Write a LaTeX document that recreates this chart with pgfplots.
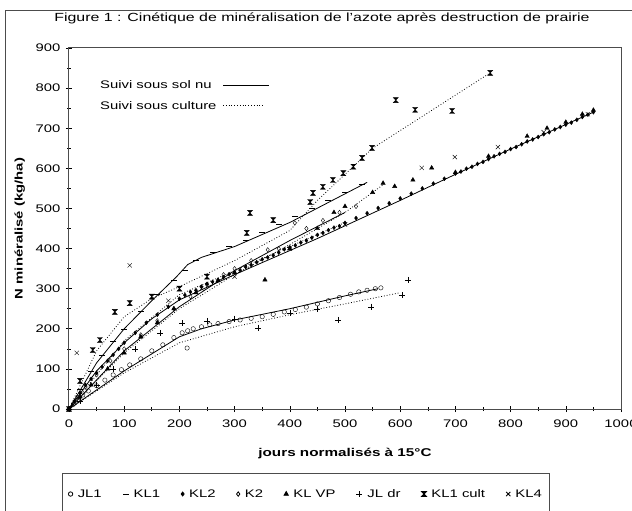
\documentclass[border=0pt]{standalone}
\usepackage{fontspec}
\setmainfont{Liberation Sans}[FakeStretch=1.35]
\usepackage{pgfplots}
\pgfplotsset{compat=1.18}

% hourglass mark for "KL1 cult"
\pgfdeclareplotmark{hourglass}{%
  \pgfpathmoveto{\pgfqpoint{-\pgfplotmarksize}{\pgfplotmarksize}}%
  \pgfpathlineto{\pgfqpoint{\pgfplotmarksize}{\pgfplotmarksize}}%
  \pgfpathlineto{\pgfqpoint{-\pgfplotmarksize}{-\pgfplotmarksize}}%
  \pgfpathlineto{\pgfqpoint{\pgfplotmarksize}{-\pgfplotmarksize}}%
  \pgfpathclose
  \pgfusepathqfillstroke}

\begin{document}
\begin{tikzpicture}
\path[use as bounding box] (-69pt,-102pt) rectangle (563pt,409pt);
\draw[gray!60!black, line width=1pt] (-63pt,-130pt) -- (-63pt,398pt) -- (600pt,398pt);
\node[font=\fontsize{11.8}{14}\selectfont] at (253pt,391pt)
  {Figure 1 : Cinétique de minéralisation de l'azote après destruction de prairie};
\begin{axis}[
    scale only axis,
    width=552pt, height=361pt,
    xmin=0, xmax=1000, ymin=0, ymax=900,
    xtick distance=100, ytick distance=100,
    minor x tick num=1, minor y tick num=1,
    tick pos=left, tick align=center,
    major tick length=6pt, minor tick length=4pt,
    every tick/.style={black, line width=0.6pt},
    axis line style={gray!60!black, line width=1pt},
    tick label style={font=\fontsize{11}{12}\selectfont},
    xticklabel style={yshift=-4pt},
    yticklabel style={xshift=-2pt},
    /pgf/number format/assume math mode=true,
    /pgf/number format/1000 sep={},
    xlabel={\textbf{jours normalisés à 15°C}},
    ylabel={\textbf{N minéralisé (kg/ha)}},
    xlabel style={font=\fontsize{11.3}{14}\selectfont, at={(axis description cs:0.5,-0.122)}, anchor=center},
    ylabel style={font=\fontsize{11}{12}\selectfont, at={(axis description cs:-0.089,0.5)}, anchor=center},
    legend columns=8,
    legend style={at={(axis description cs:-0.0127,-0.177)}, anchor=north west,
        draw=gray!60!black, line width=0.8pt, inner xsep=6pt, inner ysep=14pt,
        font=\fontsize{11}{12}\selectfont,
        /tikz/every odd column/.append style={column sep=3pt},
        /tikz/every even column/.append style={column sep=19pt}},
    legend image code/.code={\draw[#1] plot coordinates {(3pt,0pt)};},
    every axis plot/.append style={black},
    mark size=2.2pt,
]
% ---- fitted curves (no legend) ----
\addplot[forget plot, line width=0.8pt] coordinates {(0,0)(100,95)(200,180)(240,200)(300,222)(400,250)(500,282)(560,300)};
\addplot[forget plot, line width=0.8pt] coordinates {(0,0)(50,95)(100,165)(150,225)(200,272)(300,335)(450,425)(600,520)(700,585)(800,648)(950,740)};
\addplot[forget plot, line width=0.8pt] coordinates {(0,0)(50,115)(100,200)(150,270)(195,330)(215,360)(240,378)(300,405)(400,465)(540,565)};
\addplot[forget plot, line width=0.8pt] coordinates {(0,0)(100,145)(200,255)(300,345)(400,420)(500,490)};
\addplot[forget plot, dotted, line width=0.8pt] coordinates {(0,0)(100,90)(200,165)(300,205)(400,235)(500,262)(600,290)};
\addplot[forget plot, dotted, line width=0.8pt] coordinates {(0,0)(50,145)(100,230)(150,275)(200,305)(300,370)(400,445)(450,520)(550,650)(763,838)};
\addplot[forget plot, dotted, line width=0.8pt] coordinates {(0,0)(100,140)(200,250)(300,335)(400,410)(500,490)(570,560)};
\addplot[forget plot, dotted, line width=0.8pt] coordinates {(0,0)(100,170)(200,285)(300,345)(400,405)(500,465)};

% ---- measured series ----
\addplot[only marks, mark=o] coordinates {
(0,0)(8,12)(15,22)(25,35)(35,45)(50,58)(65,72)(80,85)(95,98)(110,110)(130,125)(150,145)
(170,160)(190,178)(205,190)(214,152)(215,195)(225,200)(240,205)(255,210)(270,213)(290,218)
(310,222)(330,226)(350,230)(370,236)(390,242)(410,248)(430,254)(450,262)(470,270)(490,278)
(510,286)(525,292)(540,296)(555,300)(565,302)};
\addlegendentry{JL1}
\addplot[only marks, mark=-, mark size=3pt] coordinates {
(0,0)(20,50)(40,95)(60,135)(80,170)(100,200)(130,245)(160,285)(190,320)(210,345)(230,370)
(260,390)(290,405)(320,420)(350,440)(380,460)(410,480)(440,500)(470,520)(500,540)(530,560)};
\addlegendentry{KL1}
\addplot[only marks, mark=diamond*, mark size=2pt] coordinates {
(0,0)(10,20)(20,40)(30,60)(40,75)(50,90)(60,105)(70,120)(80,135)(90,150)(100,165)(120,190)
(140,215)(160,235)(180,255)(200,275)(210,284)(220,292)(230,296)(240,305)(250,312)(260,317)
(270,322)(280,329)(290,336)(300,341)(310,346)(320,354)(330,359)(340,366)(350,373)(360,378)
(370,383)(380,390)(390,398)(400,403)(410,408)(420,415)(430,420)(440,427)(450,434)(460,439)
(470,446)(480,452)(490,456)(500,464)(520,476)(540,488)(560,501)(580,513)(600,525)(620,537)
(640,550)(660,562)(680,574)(700,587)(710,592)(720,599)(730,604)(740,611)(750,616)(760,623)
(770,630)(780,636)(790,641)(800,648)(810,653)(820,660)(830,667)(840,672)(850,678)(860,685)
(870,690)(880,697)(890,703)(900,709)(910,714)(920,721)(930,728)(940,734)(950,740)};
\addlegendentry{KL2}
\addplot[only marks, mark=diamond] coordinates {
(0,0)(15,30)(30,55)(50,85)(75,120)(100,150)(130,185)(160,220)(190,250)(220,280)(250,310)
(280,335)(300,350)(330,370)(360,397)(380,400)(409,464)(430,450)(460,470)(490,490)(520,505)};
\addlegendentry{K2}
\addplot[only marks, mark=triangle*, mark size=2.5pt] coordinates {
(0,0)(20,30)(40,60)(70,100)(100,140)(130,180)(160,215)(190,250)(230,290)(270,320)(300,340)
(355,322)(400,400)(450,450)(480,490)(500,505)(550,540)(569,563)(590,555)(623,571)(657,601)
(700,590)(760,630)(830,680)(866,700)(900,715)(930,735)(950,745)};
\addlegendentry{KL VP}
\addplot[only marks, mark=+, mark size=3pt] coordinates {
(0,0)(20,20)(50,60)(80,100)(120,150)(165,190)(205,214)(250,220)(300,225)(343,202)(400,240)
(450,250)(488,222)(548,255)(603,284)(614,322)};
\addlegendentry{JL dr}
\addplot[only marks, mark=hourglass, mark size=2.5pt] coordinates {
(0,0)(20,70)(43,147)(56,172)(83,242)(110,264)(150,280)(200,300)(250,330)(322,439)(328,489)
(370,471)(437,516)(442,539)(460,554)(478,571)(497,588)(515,604)(531,626)(549,651)(592,770)
(627,746)(694,743)(763,838)};
\addlegendentry{KL1 cult}
\addplot[only marks, mark=x, mark size=3pt] coordinates {
(0,0)(14,140)(110,358)(180,270)(240,300)(300,330)(400,400)(500,460)(639,601)(699,628)
(777,653)(860,690)(940,735)};
\addlegendentry{KL4}

% inner legend for the curves
\node[anchor=west, font=\fontsize{11}{13}\selectfont] at (axis cs:50,808) {Suivi sous sol nu};
\draw[line width=0.8pt] (axis cs:279,808) -- (axis cs:362,808);
\node[anchor=west, font=\fontsize{11}{13}\selectfont] at (axis cs:50,756) {Suivi sous culture};
\draw[dotted, line width=0.8pt] (axis cs:279,756) -- (axis cs:355,756);
\end{axis}
\end{tikzpicture}
\end{document}
